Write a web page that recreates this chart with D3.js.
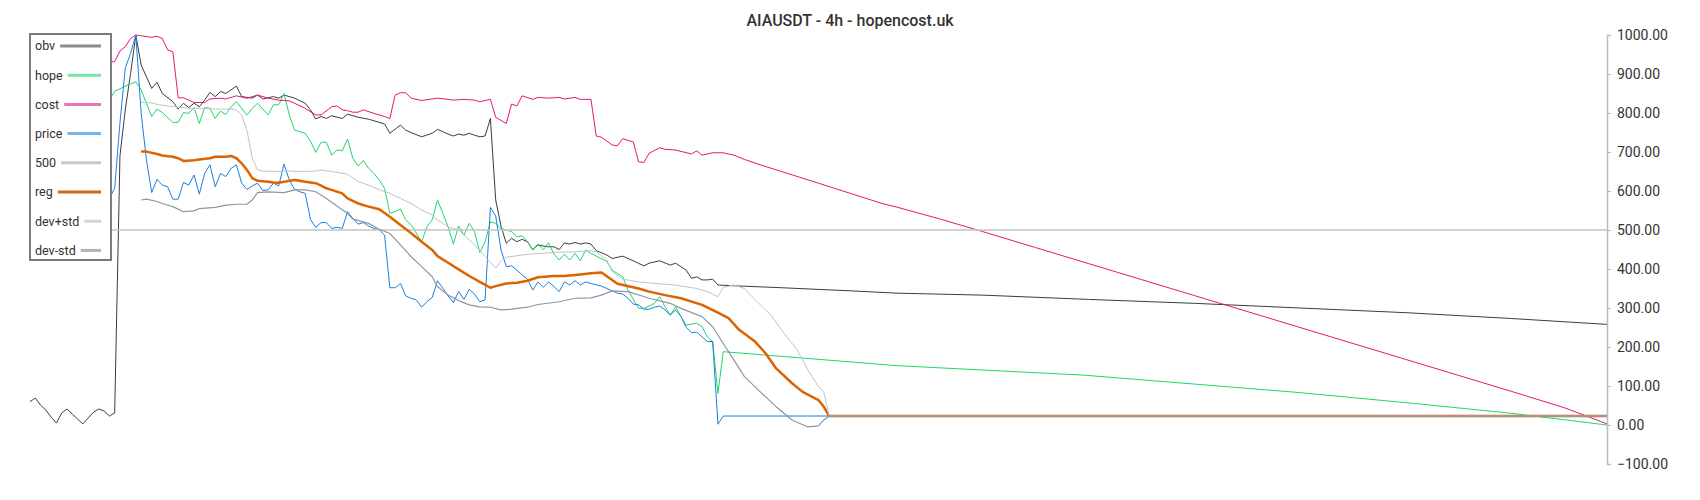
<!DOCTYPE html>
<html>
<head>
<meta charset="utf-8">
<script src="https://cdn.jsdelivr.net/npm/d3@7"></script>
<style>
  body { margin: 0; background: #fff; }
  svg { display: block; font-family: Roboto, "Noto Sans", sans-serif; }
</style>
</head>
<body>
<svg width="1700" height="500"></svg>
<script>
// [candle index, value]
var obv = [[0,60],[1,69],[2,51],[3,38],[4,20],[5,5],[6,31],[7,41],[8,28],[9,15],[10,3],[11,18],[12,33],[13,41],[14,36],[15,23],[16,31],[17,690],[18,808],[19,901],[20,1000],[21,923],[23,863],[24,879],[25,850],[27,829],[28,810],[29,825],[30,814],[31,825],[32,816],[33,833],[34,853],[35,842],[36,855],[37,850],[39,869],[40,842],[42,838],[43,846],[44,836],[45,839],[46,842],[47,838],[48,846],[50,838],[52,825],[53,808],[54,785],[55,791],[56,786],[57,793],[59,786],[60,797],[62,789],[64,784],[67,772],[68,748],[70,769],[71,756],[72,750],[74,739],[76,748],[77,758],[79,746],[80,741],[81,746],[82,743],[83,748],[84,743],[85,739],[86,741],[87,786],[88,577],[89,510],[90,466],[91,479],[92,470],[93,476],[94,470],[95,449],[96,462],[97,459],[98,457],[99,457],[100,450],[101,467],[102,464],[103,468],[104,464],[105,467],[106,464],[107,447],[109,436],[110,427],[112,433],[114,421],[116,408],[117,415],[119,421],[121,410],[122,415],[124,397],[125,376],[126,380],[127,372],[128,372],[129,374],[130,359],[133,357],[142,352],[155,344],[164,338],[180,333],[200,322],[220,312],[240,300],[260,288],[280,273],[298,258]];

var hope = [[15,833],[16,856],[17,862],[18,869],[19,874],[20,880],[21,859],[22,825],[23,791],[24,810],[25,801],[27,776],[28,776],[29,801],[30,799],[31,814],[32,773],[33,814],[34,812],[35,786],[36,805],[37,796],[38,816],[39,829],[41,795],[42,812],[43,825],[45,795],[46,821],[47,821],[48,850],[49,795],[50,756],[52,748],[53,728],[54,699],[55,725],[56,725],[57,692],[58,705],[59,703],[60,733],[61,684],[62,664],[63,678],[64,658],[65,645],[66,628],[67,607],[68,543],[69,547],[70,554],[71,526],[72,514],[74,470],[75,508],[76,526],[77,577],[78,543],[79,508],[80,464],[81,510],[82,487],[83,517],[84,496],[85,442],[86,470],[87,521],[88,517],[89,504],[90,500],[91,496],[92,483],[93,485],[94,470],[95,449],[96,464],[97,449],[98,467],[99,438],[100,423],[101,438],[102,423],[103,440],[104,421],[105,449],[106,440],[107,433],[109,419],[110,397],[112,380],[113,346],[115,299],[116,299],[117,305],[118,312],[119,329],[120,303],[121,282],[122,303],[123,278],[124,256],[126,261],[127,252],[128,226],[129,214],[130,81],[131,188],[164,152],[199,128],[220,105],[240,83],[261,56],[280,30],[298,0]];

var cost = [[15,930],[16,932],[17,959],[18,970],[19,991],[20,1000],[21,998],[23,994],[24,997],[25,991],[26,962],[27,957],[28,839],[29,839],[31,827],[33,827],[34,836],[36,838],[37,836],[39,844],[41,838],[43,846],[45,838],[47,833],[49,831],[50,825],[52,812],[54,795],[55,795],[57,816],[58,818],[59,808],[60,806],[61,802],[62,802],[63,808],[65,799],[67,791],[68,786],[69,846],[70,852],[71,852],[72,838],[74,832],[77,838],[79,835],[80,833],[82,835],[84,833],[85,829],[87,835],[88,789],[90,773],[91,823],[92,818],[93,844],[95,835],[96,840],[98,838],[100,840],[101,836],[103,840],[104,835],[106,835],[107,741],[108,738],[110,718],[111,716],[112,734],[114,726],[115,675],[116,673],[117,697],[119,711],[120,707],[122,705],[125,695],[126,703],[127,692],[129,698],[131,698],[133,692],[135,681],[138,667],[142,650],[149,620],[155,594],[161,568],[164,558],[172,528],[180,496],[190,455],[200,414],[210,373],[220,332],[230,291],[240,250],[250,209],[260,168],[270,127],[280,86],[290,44],[298,3]];

var price = [[15,581],[16,607],[17,775],[18,915],[19,953],[20,1000],[21,800],[22,680],[23,596],[24,630],[25,615],[26,611],[27,579],[28,579],[29,622],[30,615],[31,641],[32,592],[33,645],[34,667],[35,611],[36,645],[37,637],[38,658],[39,667],[40,620],[41,604],[42,613],[43,620],[44,601],[45,603],[46,620],[47,613],[48,669],[49,628],[50,604],[51,598],[52,594],[53,527],[54,507],[55,519],[56,519],[57,504],[58,507],[59,504],[60,547],[61,530],[62,515],[63,519],[64,510],[65,504],[66,500],[67,487],[68,352],[69,352],[70,363],[71,331],[72,325],[73,321],[74,302],[75,316],[76,327],[77,370],[78,351],[79,331],[80,314],[81,342],[82,322],[83,348],[84,336],[85,316],[86,321],[87,558],[88,536],[89,450],[90,406],[91,408],[92,397],[93,385],[94,374],[95,346],[96,367],[97,353],[98,367],[99,355],[100,342],[101,367],[102,359],[103,370],[104,359],[105,367],[106,363],[108,356],[109,350],[110,344],[111,338],[112,336],[113,325],[114,310],[115,308],[116,297],[117,297],[118,302],[119,305],[120,295],[121,282],[122,295],[123,279],[124,250],[125,237],[126,238],[127,226],[128,214],[129,214],[130,2],[131,23],[298,23]];

var level = [[0,500],[298,500]];

var reg = [[21,701],[22,701],[24,695],[25,691],[27,688],[28,684],[29,677],[31,679],[32,681],[34,684],[35,688],[37,688],[38,690],[39,684],[40,671],[41,654],[42,633],[43,626],[45,624],[46,622],[47,621],[49,626],[50,628],[51,626],[52,624],[54,620],[55,614],[56,607],[57,603],[59,594],[60,581],[62,568],[64,560],[66,553],[68,534],[70,513],[72,492],[74,470],[76,449],[77,433],[79,416],[81,399],[83,382],[85,367],[87,352],[88,356],[90,363],[92,365],[94,370],[96,379],[99,382],[101,382],[104,386],[106,389],[108,391],[110,372],[111,362],[115,350],[117,342],[120,333],[123,325],[127,308],[130,288],[132,274],[134,244],[137,214],[139,184],[141,145],[144,107],[146,85],[149,64],[150,47],[151,23],[298,23]];

var devPlus = [[21,827],[23,826],[24,822],[26,818],[28,815],[30,812],[32,812],[35,810],[38,810],[39,808],[40,795],[41,755],[42,684],[43,654],[44,651],[47,650],[49,651],[51,650],[54,651],[55,654],[57,650],[60,643],[62,624],[64,615],[66,603],[68,594],[70,581],[72,568],[74,551],[76,538],[77,526],[79,508],[81,500],[84,462],[86,432],[88,402],[89,420],[90,430],[93,436],[96,440],[100,443],[103,444],[106,447],[107,444],[109,423],[110,393],[112,374],[115,367],[118,363],[122,359],[126,350],[128,342],[130,329],[131,353],[133,359],[135,350],[137,321],[140,282],[142,244],[145,192],[147,141],[149,98],[150,85],[151,23],[298,23]];

var devMinus = [[21,577],[22,579],[24,573],[25,568],[26,564],[27,560],[29,547],[31,549],[32,555],[35,558],[37,564],[39,566],[41,566],[42,577],[43,596],[45,598],[48,596],[50,603],[52,603],[54,598],[56,581],[59,552],[60,543],[61,528],[64,517],[66,502],[68,491],[70,462],[72,432],[74,406],[76,380],[77,355],[79,333],[81,319],[83,308],[85,303],[87,302],[89,295],[91,297],[94,302],[96,309],[100,316],[103,325],[106,326],[108,333],[110,344],[113,342],[117,325],[121,312],[123,299],[127,278],[129,252],[131,209],[133,167],[135,124],[138,85],[141,47],[144,13],[147,-5],[149,-2],[150,13],[151,23],[298,23]];

var yTicks = [-100, 0, 100, 200, 300, 400, 500, 600, 700, 800, 900, 1000];
var title = "AIAUSDT - 4h - hopencost.uk";

var svg = d3.select("svg"),
    width = +svg.attr("width"),
    height = +svg.attr("height");

var x = d3.scaleLinear().domain([0, 298]).range([30, 1607]),
    y = d3.scaleLinear().domain([-100, 1000]).range([464, 35]);

var line = d3.line()
    .x(function(d) { return x(d[0]); })
    .y(function(d) { return y(d[1]); });

var series = [
  {name: "obv",     data: obv,      color: "#3d3d3d", key: "#8c8c8c", w: 1},
  {name: "hope",    data: hope,     color: "#1fd66a", key: "#74e8a6", w: 1},
  {name: "cost",    data: cost,     color: "#e8157b", key: "#ee74ae", w: 1},
  {name: "price",   data: price,    color: "#1a80e0", key: "#72b4ec", w: 1},
  {name: "500",     data: level,    color: "#c4c4c4", key: "#c8c8c8", w: 1.5},
  {name: "reg",     data: reg,      color: "#dd6300", key: "#d9650c", w: 2.5},
  {name: "dev+std", data: devPlus,  color: "#bfc5cb", key: "#d0d5d9", w: 1},
  {name: "dev-std", data: devMinus, color: "#8b97a2", key: "#aab5bd", w: 1.2}
];

svg.append("g").selectAll("path")
  .data(series)
  .enter().append("path")
    .attr("d", function(d) { return line(d.data); })
    .attr("fill", "none")
    .attr("stroke", function(d) { return d.color; })
    .attr("stroke-width", function(d) { return d.w; })
    .attr("stroke-linejoin", "round");

// right axis
var axis = svg.append("g")
    .attr("transform", "translate(1607,0)")
    .call(d3.axisRight(y).tickValues(yTicks).tickFormat(d3.format(".2f")).tickSize(4).tickPadding(6));
axis.select(".domain").attr("stroke", "#b0bec5").attr("stroke-width", 1.5);
axis.selectAll(".tick line").attr("stroke", "#b0bec5");
axis.selectAll(".tick text").attr("fill", "#333").style("font-size", "14px").style("font-family", "Roboto, sans-serif");

// title
svg.append("text")
    .attr("x", 850)
    .attr("y", 26)
    .attr("text-anchor", "middle")
    .attr("fill", "#333")
    .style("font-size", "16px")
    .style("font-weight", 500)
    .text(title);

// legend
var legend = svg.append("g");
legend.append("rect")
    .attr("x", 30).attr("y", 34)
    .attr("width", 81).attr("height", 226)
    .attr("fill", "#fff")
    .attr("stroke", "#7a7a7a")
    .attr("stroke-width", 2);

var item = legend.selectAll("g.item")
  .data(series)
  .enter().append("g")
    .attr("class", "item")
    .attr("transform", function(d, i) { return "translate(35," + (46 + i * 29.2) + ")"; });

item.append("text")
    .attr("dy", "0.35em")
    .attr("fill", "#333")
    .style("font-size", "12.5px")
    .text(function(d) { return d.name; });

item.each(function(d) {
  var g = d3.select(this),
      tw = g.select("text").node().getComputedTextLength();
  g.append("line")
      .attr("x1", tw + 5).attr("x2", 66)
      .attr("stroke", d.key)
      .attr("stroke-width", 3);
});
</script>
</body>
</html>
